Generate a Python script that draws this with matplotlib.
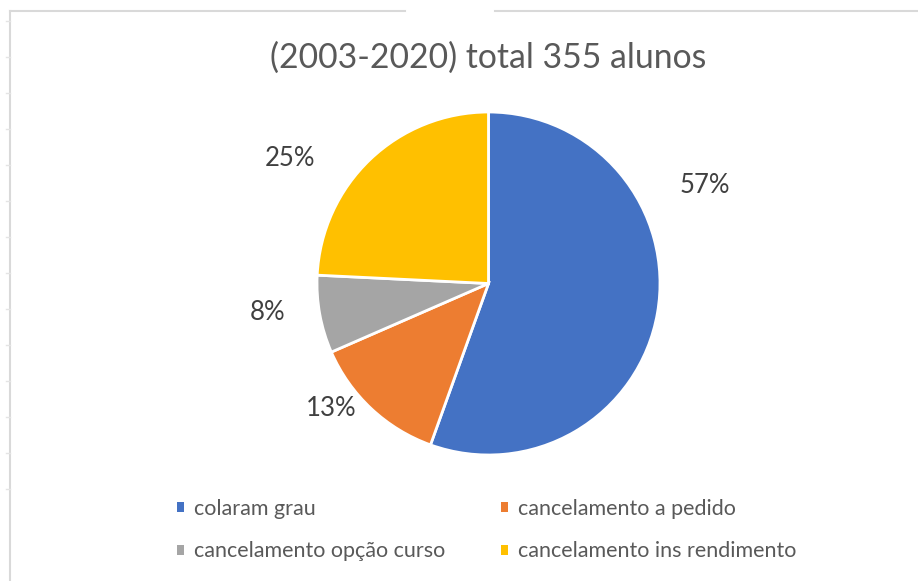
import matplotlib.pyplot as plt
from matplotlib.lines import Line2D
from matplotlib.patches import Patch

# Data
categories = ["colaram grau", "cancelamento a pedido",
              "cancelamento opção curso", "cancelamento ins rendimento"]
counts = [197, 46, 26, 86]
pct_labels = ["57%", "13%", "8%", "25%"]
title = "(2003-2020) total 355 alunos"

colors = ["#4472C4", "#ED7D31", "#A5A5A5", "#FFC000"]
# label spots (in pie radius units), Excel "best fit" style
label_pos = [(1.26, 0.57), (-0.92, -0.73), (-1.29, -0.17), (-1.16, 0.73)]

plt.rcParams['font.family'] = ['Lato', 'DejaVu Sans']

W, H = 918, 581
fig = plt.figure(figsize=(W / 100, H / 100), dpi=100)

# pie axes, centre ~ (488.5, 283.5) px, radius ~171.5 px
cx, cy, r = 488.5, 283.5, 171.5
ax = fig.add_axes([(cx - r) / W, (H - cy - r) / H, 2 * r / W, 2 * r / H])
ax.pie(counts, colors=colors, startangle=90, counterclock=False,
       radius=1, wedgeprops=dict(edgecolor="white", linewidth=2))
ax.set_xlim(-1, 1)
ax.set_ylim(-1, 1)
ax.set_aspect("equal")
ax.axis("off")

for lbl, (x, y) in zip(pct_labels, label_pos):
    ax.text(x, y, lbl, ha="center", va="center", fontsize=18.5, color="#404040",
            clip_on=False)

fig.text(cx / W, 1 - 58 / H, title, ha="center", va="center",
         fontsize=24.3, color="#595959")

# legend, filled row by row like Excel (matplotlib fills by column)
handles = [Patch(facecolor=c, edgecolor="none") for c in colors]
order = [0, 2, 1, 3]
leg = fig.legend([handles[i] for i in order], [categories[i] for i in order],
                 ncol=2, loc="center left",
                 bbox_to_anchor=(162 / W, 1 - 530 / H), frameon=False,
                 fontsize=15.5, labelcolor="#595959", handlelength=0.33,
                 handleheight=0.33, handletextpad=0.45, columnspacing=2.6,
                 labelspacing=1.05, borderpad=0.2)

# worksheet-ish frame lines
frame_c = "#D9D9D9"
fig.add_artist(Line2D([9.5 / W, 9.5 / W], [0, 1 - 11 / H], color=frame_c, lw=1.5))
fig.add_artist(Line2D([9.5 / W, 405 / W], [1 - 11 / H, 1 - 11 / H], color=frame_c, lw=1.5))
fig.add_artist(Line2D([495 / W, 1], [1 - 11 / H, 1 - 11 / H], color=frame_c, lw=1.5))
for k in range(14):
    yy = 1 - (21 + 36 * k) / H
    fig.add_artist(Line2D([6 / W, 9.5 / W], [yy, yy], color="#E4E4E4", lw=1))

fig.savefig("out.png", dpi=100, facecolor="white")
